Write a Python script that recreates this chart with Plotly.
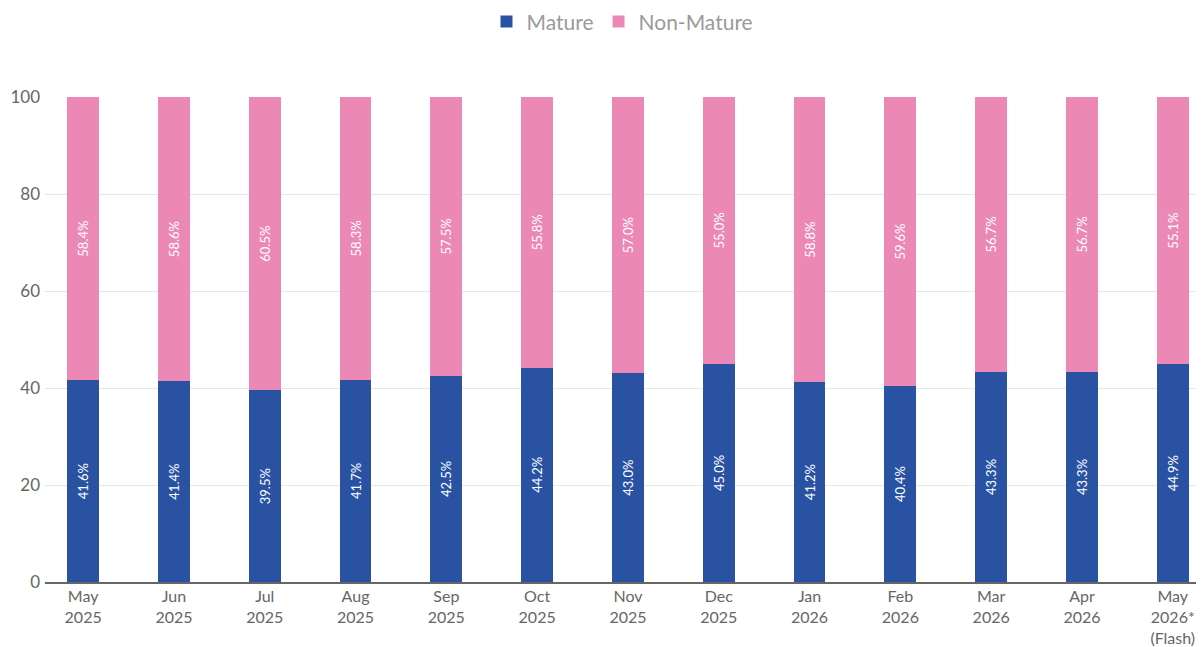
import plotly.graph_objects as go

categories = ["May<br>2025", "Jun<br>2025", "Jul<br>2025", "Aug<br>2025", "Sep<br>2025", "Oct<br>2025",
              "Nov<br>2025", "Dec<br>2025", "Jan<br>2026", "Feb<br>2026", "Mar<br>2026", "Apr<br>2026",
              "May<br>2026*<br>(Flash)"]
mature = [41.6, 41.4, 39.5, 41.7, 42.5, 44.2, 43.0, 45.0, 41.2, 40.4, 43.3, 43.3, 44.9]
non_mature = [58.4, 58.6, 60.5, 58.3, 57.5, 55.8, 57.0, 55.0, 58.8, 59.6, 56.7, 56.7, 55.1]

BLUE = "#2A52A3"
PINK = "#EC88B6"
FONT = "Lato, 'Noto Sans', sans-serif"

x = list(range(len(categories)))

fig = go.Figure()
fig.add_trace(go.Bar(
    x=x, y=mature, name="Mature", marker=dict(color=BLUE, line=dict(width=0)),
    width=0.35,
    text=[f"{v:.1f}%" for v in mature], textposition="inside", insidetextanchor="middle",
    textangle=-90, textfont=dict(color="white", size=13, family=FONT),
))
fig.add_trace(go.Bar(
    x=x, y=non_mature, name="Non-Mature", marker=dict(color=PINK, line=dict(width=0)),
    width=0.35,
    text=[f"{v:.1f}%" for v in non_mature], textposition="inside", insidetextanchor="middle",
    textangle=-90, textfont=dict(color="white", size=13, family=FONT),
))

# page body has an 8px default margin, so the figure is offset by 8px
fig.update_layout(
    barmode="stack",
    width=1196, height=639,
    margin=dict(l=37, r=4, t=89, b=65, autoexpand=False),
    plot_bgcolor="white", paper_bgcolor="white",
    font=dict(family=FONT, color="#666666", size=16),
    legend=dict(orientation="h", x=0.5, xanchor="center", y=1.155, yanchor="middle",
                font=dict(size=21, color="#9a9a9a", family=FONT), itemsizing="constant",
                traceorder="normal"),
    uniformtext=dict(minsize=8, mode="show"),
)
fig.update_xaxes(
    tickmode="array", tickvals=x, ticktext=categories, automargin=False,
    range=[-0.42, 12.3], showgrid=False, showline=True, linecolor="#666666", linewidth=1.5,
    ticks="", tickfont=dict(size=16, color="#666666"), ticklabelstandoff=-1,
)
fig.update_yaxes(
    range=[0, 100], tickvals=[0, 20, 40, 60, 80, 100], showgrid=True, gridcolor="#e6e6e6",
    gridwidth=1, zeroline=False, ticks="", tickfont=dict(size=17, color="#666666"),
    ticklabelstandoff=4, automargin=False,
)

fig.write_html("out.html")
